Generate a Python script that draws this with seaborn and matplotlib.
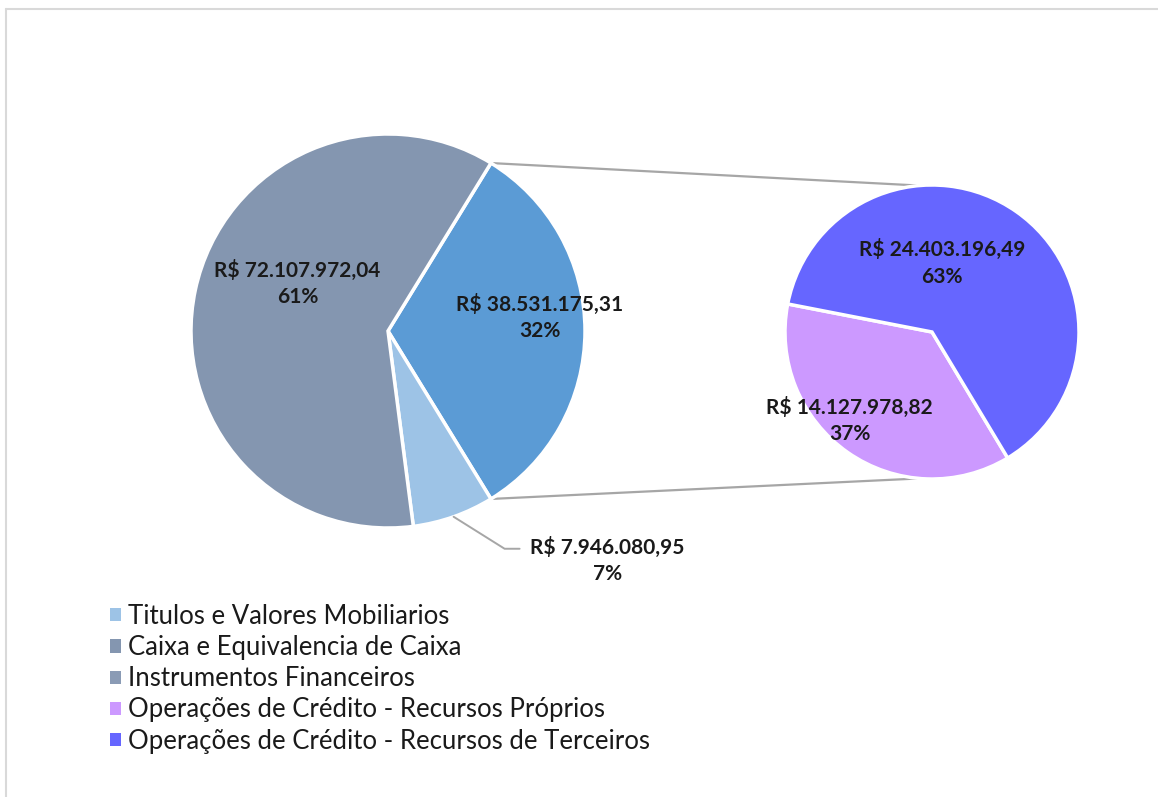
import numpy as np
import matplotlib
matplotlib.use("Agg")
import matplotlib.pyplot as plt
from matplotlib.patches import Patch
import seaborn as sns

# data
main_labels = ["Outros (Operações de Crédito)", "Titulos e Valores Mobiliarios", "Caixa e Equivalencia de Caixa"]
main_values = [38531175.31, 7946080.95, 72107972.04]
main_text = ["R$ 38.531.175,31\n32%", "R$ 7.946.080,95\n7%", "R$ 72.107.972,04\n61%"]

sub_labels = ["Operações de Crédito - Recursos Próprios", "Operações de Crédito - Recursos de Terceiros"]
sub_values = [14127978.82, 24403196.49]
sub_text = ["R$ 14.127.978,82\n37%", "R$ 24.403.196,49\n63%"]

legend_labels = ["Titulos e Valores Mobiliarios",
                 "Caixa e Equivalencia de Caixa",
                 "Instrumentos Financeiros",
                 "Operações de Crédito - Recursos Próprios",
                 "Operações de Crédito - Recursos de Terceiros"]

# colours (excel-ish)
main_colors = ["#5B9BD5", "#9DC3E6", "#8496B0"]
sub_colors = ["#CC99FF", "#6666FF"]
legend_colors = ["#9DC3E6", "#8496B0", "#8A9BB5", "#CC99FF", "#6666FF"]

sns.set_theme(style="white")
plt.rcParams['font.family'] = ['Lato', 'DejaVu Sans']

W, H = 1158, 797
fig = plt.figure(figsize=(W / 100, H / 100), dpi=100)
ax = fig.add_axes([0, 0, 1, 1])

# layout (pixel units, y up)
c_main, r_main = (388, H - 331), 197
c_sub, r_sub = (932, H - 332), 147

start = 180 * main_values[0] / sum(main_values)
w_main, _ = ax.pie(main_values, colors=main_colors, center=c_main, radius=r_main,
                   startangle=start, counterclock=False,
                   wedgeprops=dict(edgecolor="white", linewidth=2.5))
w_sub, _ = ax.pie(sub_values, colors=sub_colors, center=c_sub, radius=r_sub,
                  startangle=169, counterclock=True,
                  wedgeprops=dict(edgecolor="white", linewidth=2.5))

def pt(c, r, ang):
    a = np.deg2rad(ang)
    return c[0] + r * np.cos(a), c[1] + r * np.sin(a)

# connector lines from the "other" wedge to the sub pie
other = w_main[0]
for a_main, a_sub in [(other.theta2, 95), (other.theta1, 265)]:
    x0, y0 = pt(c_main, r_main, a_main)
    x1, y1 = pt(c_sub, r_sub, a_sub)
    ax.plot([x0, x1], [y0, y1], color="#A6A6A6", lw=1.6, zorder=0)

# data labels
lab_kw = dict(ha="center", va="center", fontsize=15, fontweight="bold",
              color="#1a1a1a", linespacing=1.4)
main_pos = [(0.77, 0.07), None, (-0.46, 0.24)]
for txt, pos in zip(main_text, main_pos):
    if pos is None:
        continue
    ax.text(c_main[0] + pos[0] * r_main, c_main[1] + pos[1] * r_main, txt, **lab_kw)

# small slice label with leader line
tw = w_main[1]
mid = (tw.theta1 + tw.theta2) / 2
x0, y0 = pt(c_main, r_main, mid)
x1, y1 = x0 + 51, y0 - 32
ax.plot([x0, x1, x1 + 15], [y0, y1, y1], color="#A6A6A6", lw=1.4)
ax.text(x1 + 103, y1 - 12, main_text[1], **lab_kw)

sub_pos = [(-0.56, -0.60), (0.07, 0.47)]
for txt, pos in zip(sub_text, sub_pos):
    ax.text(c_sub[0] + pos[0] * r_sub, c_sub[1] + pos[1] * r_sub, txt, **lab_kw)

# legend
handles = [Patch(facecolor=c, edgecolor="none") for c in legend_colors]
ax.legend(handles, legend_labels, loc="upper left", bbox_to_anchor=(110, H - 604),
          bbox_transform=ax.transData, frameon=False, fontsize=18.5,
          handlelength=0.42, handleheight=0.42, handletextpad=0.3,
          labelspacing=0.24, borderpad=0, borderaxespad=0, labelcolor="#1a1a1a")

# chart frame (top + left)
ax.plot([6, W], [H - 9, H - 9], color="#D9D9D9", lw=1.5, clip_on=False)
ax.plot([6, 6], [H - 9, 0], color="#D9D9D9", lw=1.5, clip_on=False)

ax.set_xlim(0, W)
ax.set_ylim(0, H)
ax.set_aspect("equal")
ax.axis("off")

fig.savefig("out.png", dpi=100, facecolor="white")
